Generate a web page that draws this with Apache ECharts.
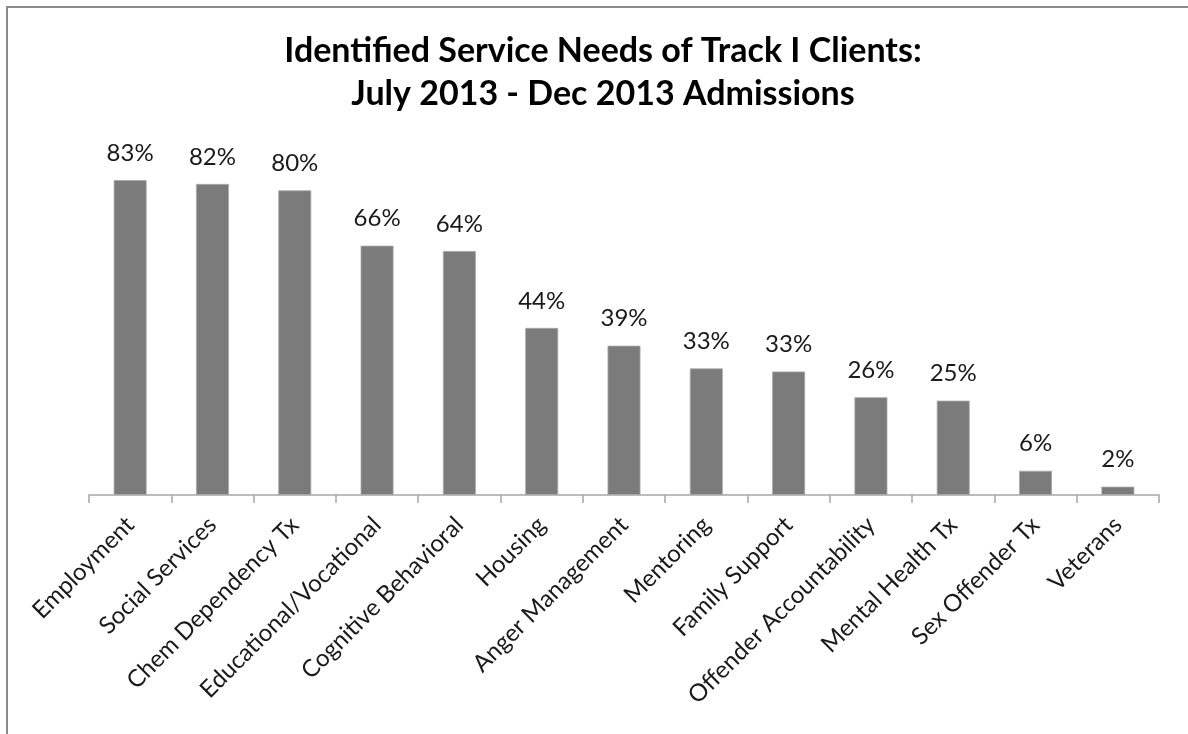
<!DOCTYPE html>
<html>
<head>
<meta charset="utf-8">
<script src="https://cdn.jsdelivr.net/npm/echarts@6/dist/echarts.min.js"></script>
<style>
  html, body { margin: 0; padding: 0; background: #fff; overflow: hidden; }
  #frame { position: absolute; left: 6px; top: 6px; width: 1300px; height: 900px;
           border-top: 2px solid #8a8a8a; border-left: 2px solid #8a8a8a; }
  #chart { position: absolute; left: 0; top: 0; width: 1188px; height: 734px; }
</style>
</head>
<body>
<div id="frame"></div>
<div id="chart"></div>
<script>
const titleLines = ["Identified Service Needs of Track I Clients:", "July 2013 - Dec 2013 Admissions"];
const categories = ["Employment", "Social Services", "Chem Dependency Tx", "Educational/Vocational",
  "Cognitive Behavioral", "Housing", "Anger Management", "Mentoring", "Family Support",
  "Offender Accountability", "Mental Health Tx", "Sex Offender Tx", "Veterans"];
const values = [83.1, 82.1, 80.4, 65.8, 64.4, 44.1, 39.4, 33.4, 32.6, 25.8, 24.9, 6.4, 2.2];

const chart = echarts.init(document.getElementById('chart'), null, { renderer: 'canvas' });
chart.setOption({
  animation: false,
  backgroundColor: 'transparent',
  title: {
    text: titleLines.join('\n'),
    left: 598, top: 25, textAlign: 'center',
    textStyle: { fontFamily: 'Lato', fontWeight: 'bold', fontSize: 34, color: '#000', lineHeight: 43 }
  },
  grid: { left: 89, right: 29, top: 154, bottom: 239, containLabel: false },
  xAxis: {
    type: 'category', data: categories, boundaryGap: true,
    axisLine: { show: true, lineStyle: { color: '#a6a6a6', width: 1.5 } },
    axisTick: { show: true, length: 8, alignWithLabel: false, lineStyle: { color: '#a6a6a6', width: 1.5 } },
    axisLabel: { rotate: 45, interval: 0, margin: 26, fontFamily: 'Lato', fontSize: 24, color: '#1a1a1a' }
  },
  yAxis: {
    type: 'value', min: 0, max: 90, show: false,
    splitLine: { show: false }
  },
  series: [{
    type: 'bar', data: values, barWidth: '40%',
    itemStyle: { color: '#7b7b7b', borderColor: '#a8a8a8', borderWidth: 0.8 },
    label: {
      show: true, position: 'top', distance: 15,
      fontFamily: 'Lato', fontSize: 24, color: '#1a1a1a',
      formatter: p => Math.round(p.value) + '%'
    }
  }]
});
</script>
</body>
</html>
